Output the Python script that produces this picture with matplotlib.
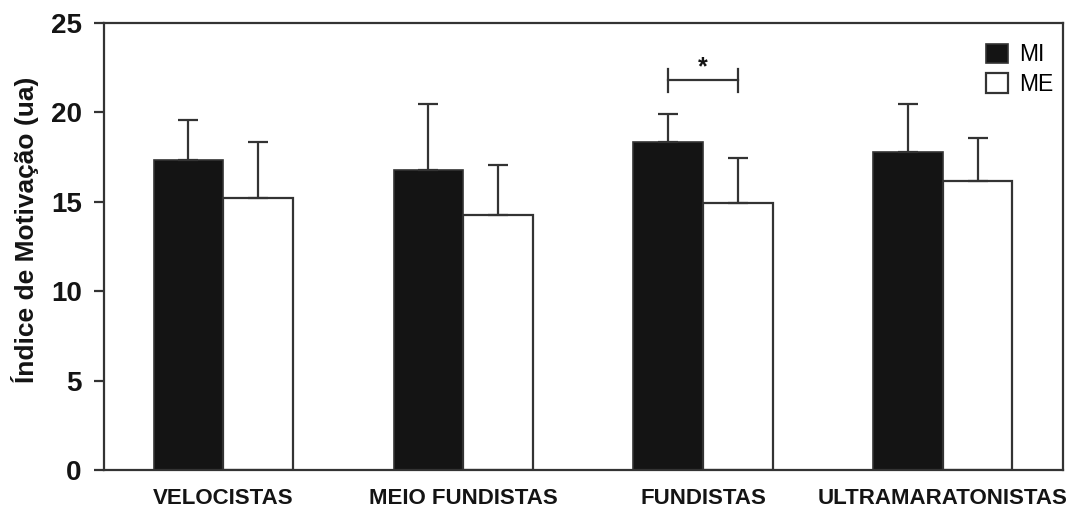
import matplotlib

matplotlib.use("Agg")
import matplotlib.pyplot as plt
import numpy as np
from matplotlib.patches import Patch

plt.rcParams["font.family"] = ["Liberation Sans", "DejaVu Sans"]

groups = ["VELOCISTAS", "MEIO FUNDISTAS", "FUNDISTAS", "ULTRAMARATONISTAS"]
mi_mean = [17.32, 16.78, 18.33, 17.77]
mi_sd = [2.25, 3.69, 1.58, 2.70]
me_mean = [15.19, 14.24, 14.93, 16.16]
me_sd = [3.14, 2.83, 2.50, 2.42]

# significant MI vs ME difference
sig_group = 2
sig_y = 21.8

INK = "#141414"
LINE = "#333333"

fig = plt.figure(figsize=(10.89, 5.09), dpi=100)
ax = fig.add_axes([0.0955, 0.0766, 0.8805, 0.8782])

x = np.arange(len(groups))
width = 0.29
err_kw = dict(ecolor=LINE, elinewidth=1.6, capsize=7, capthick=1.6)

ax.bar(x - width / 2, mi_mean, width, color=INK, edgecolor=LINE, linewidth=1.2,
       yerr=[np.zeros(len(groups)), mi_sd], error_kw=err_kw, zorder=2)
ax.bar(x + width / 2, me_mean, width, color="white", edgecolor=LINE, linewidth=1.6,
       yerr=[np.zeros(len(groups)), me_sd], error_kw=err_kw, zorder=2)

# bracket with asterisk
x0, x1 = sig_group - width / 2, sig_group + width / 2
ax.plot([x0, x1], [sig_y, sig_y], color=LINE, lw=1.6)
ax.plot([x0, x0], [sig_y - 0.65, sig_y + 0.65], color=LINE, lw=1.6)
ax.plot([x1, x1], [sig_y - 0.65, sig_y + 0.65], color=LINE, lw=1.6)
ax.text(sig_group, sig_y + 0.05, "*", ha="center", va="bottom",
        fontsize=18, fontweight="bold", color=INK)

ax.set_xlim(-0.497, 3.5)
ax.set_ylim(0, 25)
ax.set_yticks([0, 5, 10, 15, 20, 25])
ax.set_xticks(x)
ax.set_xticklabels(groups, fontsize=16, fontweight="bold", color=INK)
ax.tick_params(axis="x", length=0, pad=13)
ax.tick_params(axis="y", length=7, width=1.6, color=LINE, pad=9,
               labelsize=20, labelcolor=INK)
for lbl in ax.get_yticklabels():
    lbl.set_fontweight("bold")

for spine in ax.spines.values():
    spine.set_color(LINE)
    spine.set_linewidth(1.6)

ax.set_ylabel("Índice de Motivação (ua)", fontsize=19, fontweight="bold",
              color=INK)
ax.yaxis.set_label_coords(-0.068, 0.537)

handles = [
    Patch(facecolor=INK, edgecolor=LINE, linewidth=1.2, label="MI"),
    Patch(facecolor="white", edgecolor=LINE, linewidth=1.6, label="ME"),
]
ax.legend(handles=handles, loc="upper right", bbox_to_anchor=(0.99, 0.955),
          frameon=False, fontsize=16.5, handlelength=0.92, handleheight=0.92,
          handletextpad=0.5, labelspacing=0.3, borderaxespad=0, borderpad=0)

fig.savefig("out.png", dpi=100)
